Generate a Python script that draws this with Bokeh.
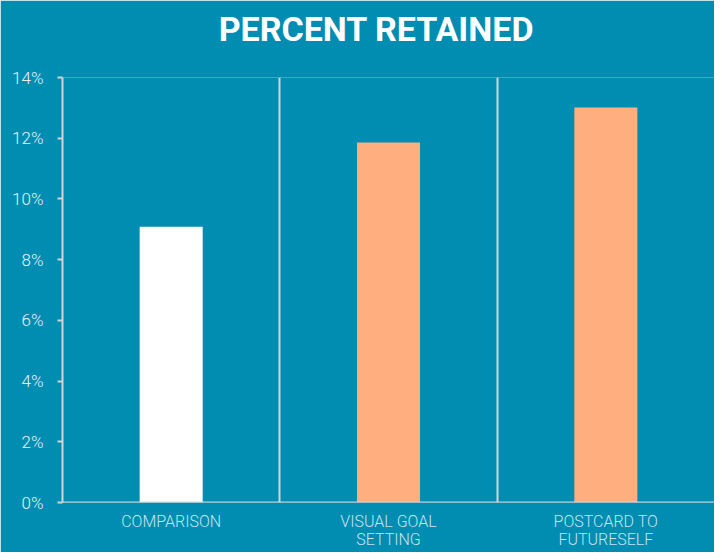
from bokeh.plotting import figure
from bokeh.models import FixedTicker, PrintfTickFormatter, Range1d, FactorRange, ColumnDataSource, Span
from bokeh.core.properties import value
from bokeh.embed import file_html
from bokeh.resources import INLINE

title_text = "PERCENT RETAINED"
categories = ["COMPARISON", "VISUAL GOAL SETTING", "POSTCARD TO FUTURESELF"]
tick_labels = ["COMPARISON", "VISUAL GOAL\nSETTING", "POSTCARD TO\nFUTURESELF"]
retained_pct = [9.08, 11.86, 13.01]
bar_colors = ["#FFFFFF", "#FFAF7F", "#FFAF7F"]
y_ticks = [0, 2, 4, 6, 8, 10, 12, 14]

BG = "#008DB1"
AXIS = "#D4D4D4"
LIGHT_FONT = "'Roboto Light', Roboto, sans-serif"

p = figure(
    x_range=FactorRange(*categories),
    y_range=Range1d(0, max(y_ticks)),
    width=714, height=552,
    output_backend="svg", toolbar_location=None,
    background_fill_color=BG, border_fill_color=BG,
    outline_line_color=None,
    min_border_left=62, min_border_right=0, min_border_top=77, min_border_bottom=50,
)

p.vbar(x=categories, top=retained_pct, width=0.29, color=bar_colors, line_color=None)

# category labels (two lines), drawn below the x axis
lines = [t.split("\n") for t in tick_labels]
label_src = ColumnDataSource(dict(
    x=categories,
    y=[0] * len(categories),
    first=[l[0] for l in lines],
    second=[l[1] if len(l) > 1 else "" for l in lines],
))
for col, off in (("first", 9), ("second", 27)):
    p.text(x="x", y="y", text=col, source=label_src, level="overlay",
           text_align="center", text_baseline="top", y_offset=off,
           text_font=value(LIGHT_FONT), text_font_size="16px",
           text_color="#C2E5EF")

# title, placed above the frame (drawn through a text glyph so it is not clipped)
title_src = ColumnDataSource(dict(x=[categories[len(categories) // 2]], y=[max(y_ticks)], t=[title_text]))
p.text(x="x", y="y", text="t", source=title_src, level="overlay",
       x_offset=-12, y_offset=-49,
       text_align="center", text_baseline="alphabetic",
       text_font=value("Roboto"), text_font_style="bold", text_font_size="34px",
       text_color="#FFFFFF")

# y axis
p.yaxis.ticker = FixedTicker(ticks=y_ticks)
p.yaxis.formatter = PrintfTickFormatter(format="%d%%")
p.yaxis.axis_line_color = AXIS
p.yaxis.axis_line_width = 2
p.yaxis.major_tick_line_color = AXIS
p.yaxis.major_tick_line_width = 2
p.yaxis.major_tick_in = 0
p.yaxis.major_tick_out = 5
p.yaxis.minor_tick_line_color = None
p.yaxis.major_label_text_font = LIGHT_FONT
p.yaxis.major_label_text_font_size = "17px"
p.yaxis.major_label_text_color = "#E4F1F5"
p.yaxis.major_label_standoff = 14

# x axis: baseline only (labels drawn as text above)
p.xaxis.visible = False
p.add_layout(Span(location=0, dimension="width", line_color=AXIS, line_width=2))

# grid: separators between categories only
p.ygrid.grid_line_color = None
p.xgrid.ticker = FixedTicker(ticks=list(range(1, len(categories))))
p.xgrid.grid_line_color = AXIS
p.xgrid.grid_line_width = 2

open("out.html", "w").write(file_html(p, INLINE))
